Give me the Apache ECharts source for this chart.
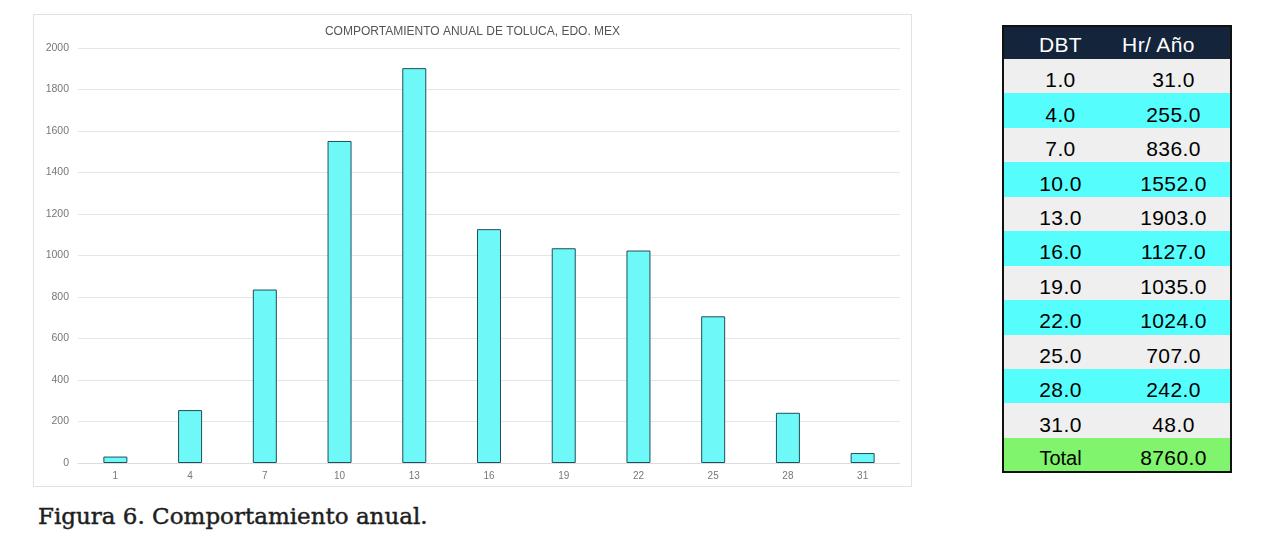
<!DOCTYPE html>
<html><head><meta charset="utf-8">
<script src="https://cdn.jsdelivr.net/npm/echarts@6/dist/echarts.min.js"></script>
<style>
html,body{margin:0;padding:0;background:#fff;width:1268px;height:546px;overflow:hidden;}
#panel{position:absolute;left:33px;top:14px;width:879px;height:473px;box-sizing:border-box;border:1px solid #e2e2e2;}
#chart{width:877px;height:471px;}
#tbl{position:absolute;left:1002px;top:25px;width:230px;border-collapse:collapse;border:2px solid #111;font-family:"Liberation Sans",Arial,sans-serif;font-size:21px;letter-spacing:0.4px;table-layout:fixed;}
#tbl td{height:34.45px;padding:0;text-align:center;color:#000;line-height:20px;}
#tbl td span{position:relative;top:4px;}
#tbl td.a{width:113px;}
#tbl tr.h td{background:#14243b;color:#fff;height:32px;}
#tbl tr.h td span{top:2px;}
#tbl tr.h td.b{padding-right:30px;}
#tbl tr.g td{background:#efefef;}
#tbl tr.c td{background:#55fdfd;}
#tbl tr.t td{background:#80f46c;height:33px;}
#tbl tr.t td.a{letter-spacing:0;font-size:20px;}
#cap{position:absolute;left:38px;top:503px;font-family:"DejaVu Serif","Liberation Serif",serif;font-size:23px;color:#1e1e1e;-webkit-text-stroke:0.45px #1e1e1e;}
</style></head>
<body>
<div id="panel"><div id="chart"></div></div>
<table id="tbl"></table>
<div id="cap">Figura 6. Comportamiento anual.</div>
<script>
const categories = ["1","4","7","10","13","16","19","22","25","28","31"];
const hours = [31, 255, 836, 1552, 1903, 1127, 1035, 1024, 707, 242, 48];
const tableDBT = ["1.0","4.0","7.0","10.0","13.0","16.0","19.0","22.0","25.0","28.0","31.0"];
const tableHours = ["31.0","255.0","836.0","1552.0","1903.0","1127.0","1035.0","1024.0","707.0","242.0","48.0"];
const totalLabel = "Total";
const totalValue = "8760.0";
const yTicks = [0, 200, 400, 600, 800, 1000, 1200, 1400, 1600, 1800, 2000];

// table
const tbl = document.getElementById('tbl');
const cell = (cls, t) => '<td class="'+cls+'"><span>'+t+'</span></td>';
let html = '<tr class="h">'+cell('a','DBT')+cell('b','Hr/ Año')+'</tr>';
tableDBT.forEach((d,i)=>{ html += '<tr class="'+(i%2===0?'g':'c')+'">'+cell('a',d)+cell('b',tableHours[i])+'</tr>'; });
html += '<tr class="t">'+cell('a',totalLabel)+cell('b',totalValue)+'</tr>';
tbl.innerHTML = html;

const chart = echarts.init(document.getElementById('chart'), null, {renderer:'canvas'});
chart.setOption({
  animation:false,
  title:{text:'COMPORTAMIENTO ANUAL DE TOLUCA, EDO. MEX', left:'center', top:6,
    textStyle:{fontSize:12, fontWeight:'normal', color:'#555', fontFamily:'Liberation Sans, Arial, sans-serif'}},
  grid:{left:44, right:11, top:33, bottom:23},
  xAxis:{type:'category', data:categories,
    axisLine:{show:true, lineStyle:{color:'#dcdcdc'}}, axisTick:{show:false},
    axisLabel:{color:'#777', fontSize:10, margin:8, fontFamily:'Liberation Sans, Arial, sans-serif'}},
  yAxis:{type:'value', min:yTicks[0], max:yTicks[yTicks.length-1], interval:200,
    axisLine:{show:false}, axisTick:{show:false},
    axisLabel:{color:'#777', fontSize:10.5, margin:9, fontFamily:'Liberation Sans, Arial, sans-serif',
      formatter:function(v){return String(v);}},
    splitLine:{lineStyle:{color:'#e6e6e6', width:1}}},
  series:[{type:'bar', data:hours, barWidth:24,
    itemStyle:{color:'#6ff8f8', borderColor:'#1f4f5c', borderWidth:1}}]
});
</script>
</body></html>
